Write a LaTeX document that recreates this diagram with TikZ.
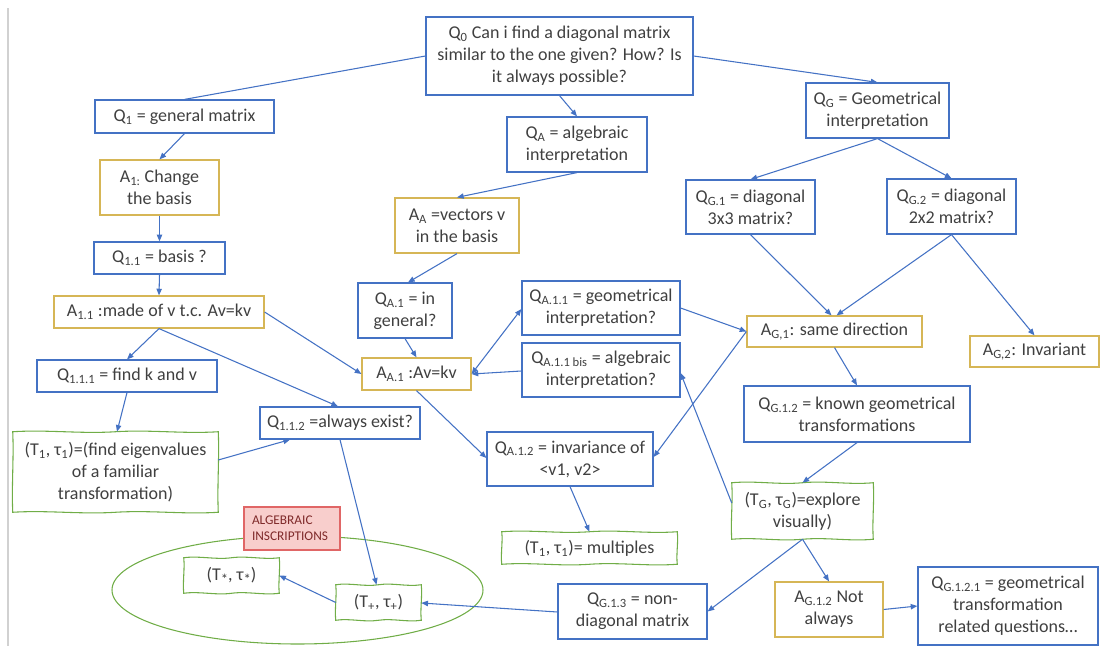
\documentclass[tikz,border=0pt]{standalone}
\usepackage{fontspec}
\setmainfont{Carlito}
\usetikzlibrary{calc,arrows.meta,shapes.geometric}

\definecolor{qblue}{HTML}{4472C4}
\definecolor{agold}{HTML}{D6B656}
\definecolor{tgreen}{HTML}{70AD47}
\definecolor{inkgray}{HTML}{404040}
\definecolor{redfill}{HTML}{F8CECC}
\definecolor{redline}{HTML}{E06666}
\definecolor{redtext}{HTML}{7F2A2A}
\newcommand\lo[1]{\textsubscript{#1}}
\newcommand\lostar{{\fontsize{11pt}{11pt}\selectfont\raisebox{-0.55ex}{*}}}
% hand-drawn wavy outline around a named node
\newcommand\wavy[1]{%
  \draw[tgreen, line width=0.8pt]
   (#1.north west)
   .. controls ($(#1.north west)!0.17!(#1.north east)+(0,-2.2)$)
           and ($(#1.north west)!0.33!(#1.north east)+(0,2.2)$)
   .. ($(#1.north west)!0.5!(#1.north east)$)
   .. controls ($(#1.north west)!0.67!(#1.north east)+(0,-2.2)$)
           and ($(#1.north west)!0.83!(#1.north east)+(0,2.2)$)
   .. (#1.north east)
   .. controls ($(#1.north east)!0.33!(#1.south east)+(1.2,0)$)
           and ($(#1.north east)!0.67!(#1.south east)+(-1.2,0)$)
   .. (#1.south east)
   .. controls ($(#1.south east)!0.17!(#1.south west)+(0,2.2)$)
           and ($(#1.south east)!0.33!(#1.south west)+(0,-2.2)$)
   .. ($(#1.south east)!0.5!(#1.south west)$)
   .. controls ($(#1.south east)!0.67!(#1.south west)+(0,2.2)$)
           and ($(#1.south east)!0.83!(#1.south west)+(0,-2.2)$)
   .. (#1.south west)
   .. controls ($(#1.south west)!0.33!(#1.north west)+(-1.2,0)$)
           and ($(#1.south west)!0.67!(#1.north west)+(1.2,0)$)
   .. (#1.north west) -- cycle;}

\begin{document}
\begin{tikzpicture}[x=0.75pt,y=-0.75pt,
  every node/.style={text=inkgray, font=\fontsize{13.5pt}{16.5pt}\selectfont,
    align=center, inner sep=0pt},
  sz/.style 2 args={minimum width=#1*0.75pt, minimum height=#2*0.75pt},
  qbox/.style={draw=qblue, line width=0.9pt, fill=white},
  abox/.style={draw=agold, line width=0.9pt, fill=white},
  tbox/.style={fill=white},
  ln/.style={draw=qblue, line width=0.8pt},
  arr/.style={ln, -{Triangle[length=5pt,width=4pt]}},
  biarr/.style={ln, {Triangle[length=5pt,width=4pt]}-{Triangle[length=5pt,width=4pt]}},
]
\useasboundingbox (0,0) rectangle (1100,646);

% page margin rule
\draw[black!18, line width=0.8pt] (8,8) -- (8,646);

% grouping ellipse
\node[ellipse, draw=tgreen, line width=0.8pt, sz={371}{108}] (ring) at (297.5,590) {};

% questions
\node[qbox, sz={267}{78}] (Q0) at (559.5,56)
  {Q\lo{0} Can i find a diagonal matrix\\similar to the one given? How? Is\\it always possible?};
\node[qbox, sz={179}{33}] (Q1) at (184.5,116.5) {Q\lo{1} = general matrix};
\node[qbox, sz={140}{55}] (QA) at (577,144.5) {Q\lo{A} = algebraic\\interpretation};
\node[qbox, sz={143}{55}] (QG) at (877.5,110.5) {Q\lo{G} = Geometrical\\interpretation};
\node[qbox, sz={131}{32}] (Q11) at (159.5,258) {Q\lo{1.1} = basis ?};
\node[qbox, sz={129}{54}] (QG1) at (750.5,207) {Q\lo{G.1} = diagonal\\3x3 matrix?};
\node[qbox, sz={129}{55}] (QG2) at (951.5,206.5) {Q\lo{G.2} = diagonal\\2x2 matrix?};
\node[qbox, sz={94}{55}] (QA1) at (405,310.5) {Q\lo{A.1} = in\\general?};
\node[qbox, sz={158}{54}] (QA11) at (601,308) {Q\lo{A.1.1} = geometrical\\interpretation?};
\node[qbox, sz={158}{54}] (QA11b) at (601,370) {Q\lo{A.1.1 bis} = algebraic\\interpretation?};
\node[qbox, sz={180}{32}] (Q111) at (127,376) {Q\lo{1.1.1} = find k and v};
\node[qbox, sz={160}{32}] (Q112) at (340,423) {Q\lo{1.1.2} =always exist?};
\node[qbox, sz={226}{56}] (QG12) at (857,414) {Q\lo{G.1.2} = known geometrical\\transformations};
\node[qbox, sz={166}{54}] (QA12) at (570,459) {Q\lo{A.1.2} = invariance of\\<v1, v2>};
\node[qbox, sz={149}{55}] (QG13) at (632.5,611.5) {Q\lo{G.1.3} = non-\\diagonal matrix};
\node[qbox, sz={180}{78}] (QG121) at (1008,606)
  {Q\lo{G.1.2.1} = geometrical\\transformation\\related questions…};

% answers
\node[abox, sz={119}{55}] (A1) at (159.5,187.5) {A\lo{1:} Change\\the basis};
\node[abox, sz={124}{55}] (AA) at (457,225.5) {A\lo{A} =vectors v\\in the basis};
\node[abox, sz={210}{32}] (A11) at (159,312) {A\lo{1.1} :made of v t.c. Av=kv};
\node[abox, sz={109}{32}] (AA1) at (416.5,374) {A\lo{A.1} :Av=kv};
\node[abox, sz={175}{31}] (AG1) at (834.5,331.5) {A\lo{G,1}: same direction};
\node[abox, sz={129}{31}] (AG2) at (1034.5,351.5) {A\lo{G,2}: Invariant};
\node[abox, sz={108}{55}] (AG12) at (829,609.5) {A\lo{G.1.2} Not\\always};

% tasks / techniques
\node[tbox, sz={205}{80}] (T1) at (115.5,472)
  {(T\lo{1}, τ\lo{1})=(find eigenvalues\\of a familiar\\transformation)};
\node[tbox, sz={175}{32}] (T1m) at (589.5,548) {(T\lo{1}, τ\lo{1})= multiples};
\node[tbox, sz={141}{56}] (TG) at (802.5,511) {(T\lo{G}, τ\lo{G})=explore\\visually)};
\node[tbox, sz={95}{35}] (Tstar) at (231.5,575.5) {(T\lostar, τ\lostar)};
\node[tbox, sz={85}{35}] (Tplus) at (378.5,602.5) {(T\lo{+}, τ\lo{+})};
\wavy{T1}
\wavy{T1m}
\wavy{TG}
\wavy{Tstar}
\wavy{Tplus}

% label of the group
\node[draw=redline, fill=redfill, line width=0.8pt, sz={96}{43}, text=redtext,
  font=\fontsize{10pt}{12pt}\selectfont, align=left, text width=60pt]
  (alg) at (292,528.5) {ALGEBRAIC\\INSCRIPTIONS};

% connectors
\draw[ln] (Q0.west) -- (Q1.north);
\draw[arr] (Q0.south) -- (QA.north);
\draw[arr] (Q0.east) -- (QG.north);
\draw[arr] (Q1.south) -- (A1.north);
\draw[arr] (A1.south) -- (Q11.north);
\draw[arr] (Q11.south) -- (A11.north);
\draw[arr] (QA.south) -- (AA.north);
\draw[arr] (QG.south) -- (QG1.north);
\draw[arr] (QG.south) -- (QG2.north);
\draw[arr] (AA.south) -- ($(QA1.north)+(3,0)$);
\draw[arr] (QA1.south) -- (AA1.north);
\draw[arr] (A11.east) -- (AA1.west);
\draw[arr] (A11.south) -- (Q111.north);
\draw[arr] (A11.south) -- ($(Q112.north)+(-2,0)$);
\draw[arr] (Q111.south) -- ($(T1.north)+(1.5,0)$);
\draw[arr] ($(T1.east)+(0,-12)$) -- ($(Q112.south)+(-50,0)$);
\draw[arr] (Q112.south) -- ($(Tplus.north)+(-2,0)$);
\draw[biarr] (AA1.east) -- ($(QA11.west)+(0,1)$);
\draw[arr] ($(QA11b.west)+(0,1)$) -- (AA1.east);
\draw[arr] (AA1.south) -- ($(QA12.west)+(0,-1)$);
\draw[arr] (QA11.east) -- (AG1.west);
\draw[arr] (AG1.west) -- ($(QA12.east)+(0,-2)$);
\draw[arr] ($(TG.west)+(0,-8)$) -- ($(QA11b.east)+(0,3)$);
\draw[arr] (QG1.south) -- ($(AG1.north)+(-3,0)$);
\draw[arr] (QG2.south) -- ($(AG1.north)+(2,0)$);
\draw[arr] (QG2.south) -- (AG2.north);
\draw[arr] (AG1.south) -- (QG12.north);
\draw[arr] (QG12.south) -- (TG.north);
\draw[arr] (TG.south) -- (AG12.north);
\draw[arr] (TG.south) -- (QG13.east);
\draw[arr] (AG12.east) -- (QG121.west);
\draw[arr] (QA12.south) -- (T1m.north);
\draw[arr] ($(QG13.west)+(0,0.5)$) -- ($(Tplus.east)+(0,0.5)$);
\draw[arr] (Tplus.west) -- (Tstar.east);
\end{tikzpicture}
\end{document}
